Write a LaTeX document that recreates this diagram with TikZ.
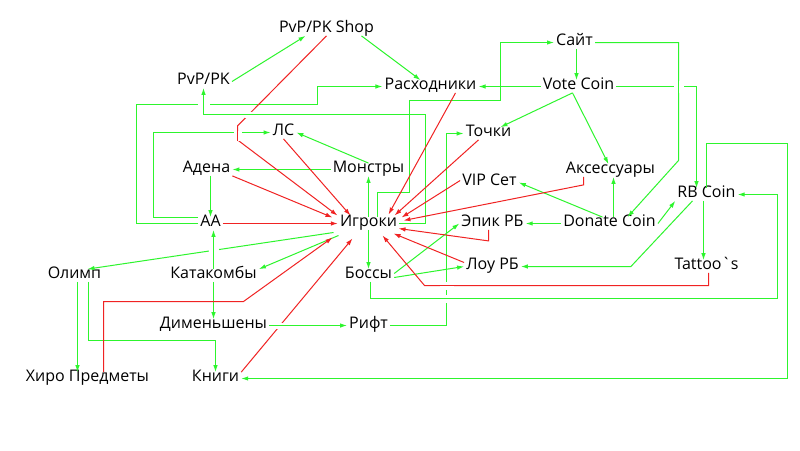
\documentclass[tikz,border=0pt]{standalone}
\usepackage{fontspec}
\setmainfont{Open Sans}[Ligatures=TeXOff]
\usetikzlibrary{arrows.meta,calc}
\definecolor{lgreen}{RGB}{45,245,45}
\definecolor{lred}{RGB}{240,35,35}
\tikzset{
  item/.style={inner sep=2pt, font=\fontsize{16}{19}\selectfont, text height=0.74em, text depth=0.1em},
  gplain/.style={draw=lgreen, line width=1pt},
  rplain/.style={draw=lred, line width=1pt},
  gline/.style={gplain, -{Latex[length=7pt,width=4.5pt]}},
  rline/.style={rplain, -{Latex[length=7pt,width=4.5pt]}},
  bridge/.style={preaction={draw=white, line width=#1}}
}
\begin{document}
\begin{tikzpicture}[x=1pt,y=-1pt]
	\fill[white] (0,0) rectangle (800,450);
	\useasboundingbox (0,0) rectangle (800,450);
	\begin{scope}[shift={(0.5,0.5)}]

	% items
	\node[item] (shop) at (326,29) {PvP/PK Shop};
	\node[item] (pvp) at (203,81) {PvP/PK};
	\node[item] (rash) at (430,86) {Расходники};
	\node[item] (sait) at (574,42) {Сайт};
	\node[item] (vote) at (578,86) {Vote Coin};
	\node[item] (tochki) at (488,133) {Точки};
	\node[item] (ls) at (283,132) {ЛС};
	\node[item] (adena) at (206,169) {Адена};
	\node[item] (monstr) at (368,169) {Монстры};
	\node[item] (aa) at (210,223) {АА};
	\node[item] (igroki) at (368,223) {Игроки};
	\node[item] (vip) at (489,182) {VIP Сет};
	\node[item] (aks) at (610,170) {Аксессуары};
	\node[item] (epik) at (492,223) {Эпик РБ};
	\node[item] (donate) at (609,223) {Donate Coin};
	\node[item] (lou) at (492,266) {Лоу РБ};
	\node[item] (rbcoin) at (706,194) {RB Coin};
	\node[item] (tattoo) at (706,266) {Tattoo`s};
	\node[item] (olimp) at (74,275) {Олимп};
	\node[item] (kata) at (213,275) {Катакомбы};
	\node[item] (bossy) at (368,275) {Боссы};
	\node[item] (dimen) at (213,325) {Дименьшены};
	\node[item] (rift) at (368,325) {Рифт};
	\node[item] (hiro) at (87,378) {Хиро Предметы};
	\node[item] (knigi) at (215,378) {Книги};

	% green links
	\draw[gline] (pvp.east) -- ([xshift=-21pt]shop.south);
	\draw[gline] ([xshift=35pt]shop.south) -- ([xshift=-10pt]rash.north);
	\draw[gline] (aa.west) -| (136,104) -| (317,86) -- (rash.west);
	\draw[gline] ([yshift=6pt]aa.west) -| (153,132) -- (ls.west);
	\draw[gline] (monstr.north) -- (ls.east);
	\draw[gline] (monstr.west) -- (adena.east);
	\draw[gline] (aa.north |- adena.south) -- (aa.north);
	\draw[gline] (igroki.north) -- (monstr.south);
	\draw[gline] (igroki.south) -- (bossy.north);
	\draw[gline] ([shift={(-35,9)}]igroki.center) -- ([xshift=13pt]olimp.north);
	\draw[gline] ([shift={(-30,12)}]igroki.center) -- (kata.north east);
	\draw[gline] (kata.north) -- (kata.north |- aa.south);
	\draw[gline] (kata.south) -- (dimen.north);
	\draw[gline] ([xshift=3pt]olimp.south) -- ([xshift=3pt]olimp.south |- hiro.north);
	\draw[gline] ([xshift=14pt]olimp.south) -- ++(0,59) -| (knigi.north);
	\draw[gline] (dimen.east) -- (rift.west);
	\draw[gline] (rift.east) -| ($(tochki.west)+(-17,0)$) -- (tochki.west);
	\draw[gline] ([xshift=9pt]igroki.north) |- (409,192) -- (409,100) -| (500,42) -- (sait.west);
	\draw[gline] (igroki.east) -| (425,114) -| (pvp.south);
	\draw[gline] (vote.west) -- (rash.east);
	\draw[gline] ([xshift=-6pt]vote.south) -- ([xshift=12pt]tochki.north);
	\draw[gline] ([xshift=-6pt]vote.south) -- ([xshift=-2pt]aks.north);
	\draw[gline] ([xshift=2pt]sait.south) -- ([xshift=2pt]sait.south |- vote.north);
	\draw[gline] (sait.east) -| (678,160) -- ([xshift=18pt]donate.north);
	\draw[gline] (vote.east) -| ([xshift=-10pt]rbcoin.north);
	\draw[gline] ([xshift=4pt]donate.north) -- ([xshift=4pt]donate.north |- aks.south);
	\draw[gline] ([xshift=-7pt]donate.north) -- (vip.east);
	\draw[gline] (donate.east) -- (rbcoin.south west);
	\draw[gline] (donate.west) -- (epik.east);
	\draw[gline] ([xshift=-14pt]rbcoin.south) -- ($(lou.east)+(110,0)$) -- (lou.east);
	\draw[gline] ([xshift=-3pt]rbcoin.south) -- ([xshift=-3pt]rbcoin.south |- tattoo.north);
	\draw[gline] (rbcoin.north) |- (787,143) |- (knigi.east);
	\draw[gline] ([xshift=2pt]bossy.south) |- (777,298) |- (rbcoin.east);
	\draw[gline] ([yshift=2pt]bossy.east) -- (epik.west);
	\draw[gline] ([yshift=-2pt]bossy.east) -- (lou.west);

	% red links into Igroki
	\draw[rline] (shop.south) -- ++(-89,90) -- ++(0,14) -- ([shift={(-31,-8)}]igroki.center);
	\draw[rline] (ls.south) -- ([shift={(-18,-8)}]igroki.center);
	\draw[rline] (adena.south east) -- ([shift={(-36,-6)}]igroki.center);
	\draw[rline] (aa.east) -- (igroki.west);
	\draw[rline] ([xshift=16pt]hiro.north) |- (243,301) -- ([shift={(-36,14)}]igroki.center);
	\draw[rline] (knigi.north east) -- ([shift={(-16,15)}]igroki.center);
	\draw[rline] ([yshift=4pt]lou.west) -- ([shift={(25,10)}]igroki.center);
	\draw[rline] ([xshift=-4pt]epik.south) -- ++(0,11) -- ([shift={(30,5)}]igroki.center);
	\draw[rline] ([xshift=2pt]tattoo.south) |- (424,285) -- ([shift={(14,12)}]igroki.center);
	\draw[rline] ([xshift=-27pt]aks.south) -- ++(0,8) -- ([shift={(35,-3)}]igroki.center);
	\draw[rline] ([yshift=2pt]vip.west) -- ([shift={(33,-6)}]igroki.center);
	\draw[rline] ([xshift=-10pt]tochki.south) -- ([shift={(26,-8)}]igroki.center);
	\draw[rline] ([xshift=25pt]rash.south) -- ([shift={(20,-9)}]igroki.center);

	% crossings
	\draw[gplain, bridge=12pt] (203,98) -- (203,110);
	\draw[rplain, bridge=8pt] (237,130) -- (237,140);
	\draw[gplain, bridge=6pt] (244,114) -- (260,114);
	\draw[gplain, bridge=10pt] (213,236) -- (213,256);
	\draw[gplain, bridge=6pt] (270,325) -- (287,325);
	\draw[gplain, bridge=10pt] (678,80) -- (678,92);
	\draw[gplain, bridge=8pt] (439,298) -- (453,298);
	\draw[rplain, bridge=8pt] (439,285) -- (453,285);
	\end{scope}
\end{tikzpicture}
\end{document}
